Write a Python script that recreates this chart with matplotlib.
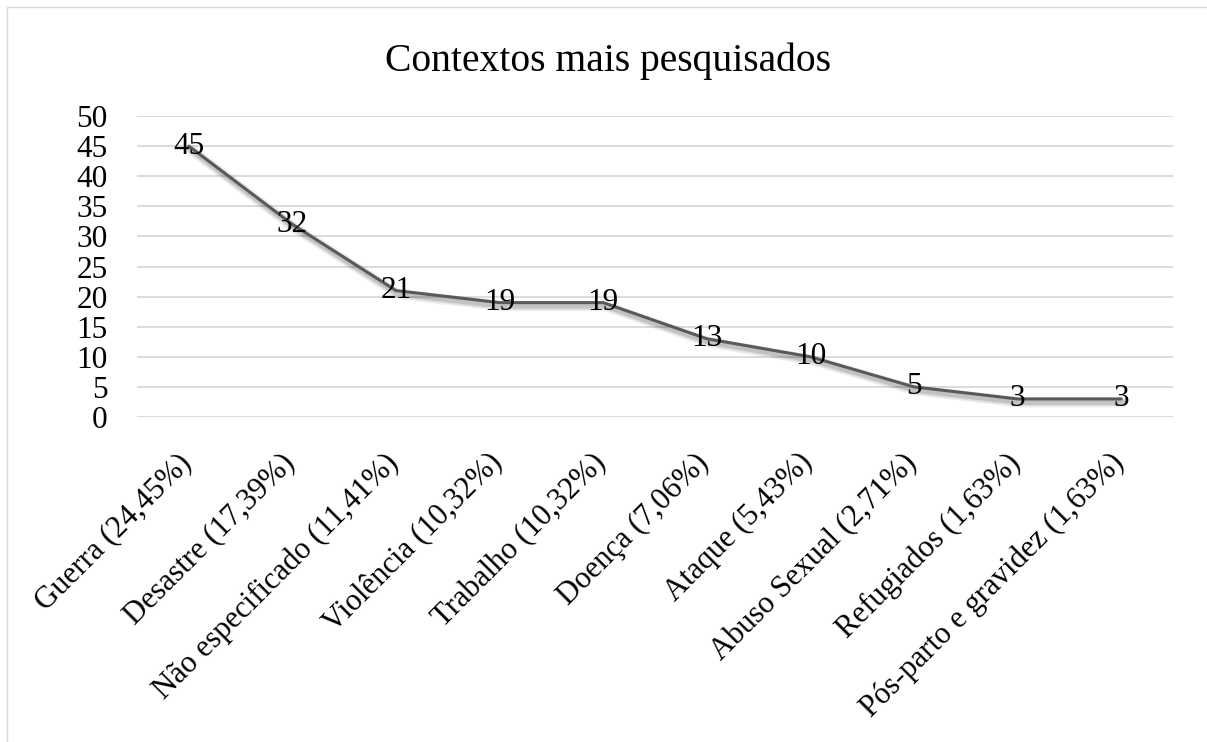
import matplotlib
matplotlib.use("Agg")
import matplotlib.pyplot as plt
import matplotlib.patheffects as pe
from matplotlib.patches import Rectangle
import matplotlib.transforms as mtransforms

plt.rcParams['font.family'] = ['Liberation Serif', 'DejaVu Serif']

title = "Contextos mais pesquisados"
categories = [
    "Guerra (24,45%)",
    "Desastre (17,39%)",
    "Não especificado (11,41%)",
    "Violência (10,32%)",
    "Trabalho (10,32%)",
    "Doença (7,06%)",
    "Ataque (5,43%)",
    "Abuso Sexual (2,71%)",
    "Refugiados (1,63%)",
    "Pós-parto e gravidez (1,63%)",
]
values = [45, 32, 21, 19, 19, 13, 10, 5, 3, 3]
y_ticks = [0, 5, 10, 15, 20, 25, 30, 35, 40, 45, 50]

W, H = 1207, 742
fig = plt.figure(figsize=(W / 100, H / 100), dpi=100)
fig.patch.set_facecolor("white")

# chart frame (light grey border)
fig.add_artist(Rectangle((7 / W, -0.05), 1.2, 1 - 7 / H + 0.05,
                         transform=fig.transFigure, fill=False,
                         edgecolor="#d9d9d9", linewidth=1.0))

ax = fig.add_axes([137 / W, 1 - 417 / H, (1173 - 137) / W, (417 - 116) / H])
ax.set_facecolor("none")

x = list(range(len(categories)))
shadow = [pe.SimpleLineShadow(offset=(1.5, -2.5), shadow_color="black", alpha=a, linewidth=w)
          for a, w in ((0.06, 7.5), (0.08, 5.5), (0.12, 3.5))]
ax.plot(x, values, color="#595959", linewidth=2.2, solid_capstyle="round",
        path_effects=shadow + [pe.Normal()], zorder=3)

for xi, v in zip(x, values):
    ax.text(xi, v, str(v), ha="center", va="center", fontsize=22.5,
            color="black", zorder=4)

ax.set_xlim(-0.5, len(categories) - 0.5)
ax.set_ylim(0, 50)
ax.set_yticks(y_ticks)
ax.set_yticklabels([str(t) for t in y_ticks], fontsize=22.5)
ax.yaxis.grid(True, color="#d9d9d9", linewidth=1.3)
ax.set_axisbelow(True)
ax.tick_params(axis="y", length=0, pad=21)
ax.set_xticks(x)
ax.set_xticklabels(categories, fontsize=22.1, rotation=45, ha="right",
                   rotation_mode="anchor")
ax.tick_params(axis="x", length=0, pad=22.5)
offset = mtransforms.ScaledTranslation(-12 / 100, 0, fig.dpi_scale_trans)
for lab in ax.get_xticklabels():
    lab.set_transform(lab.get_transform() + offset)
for s in ax.spines.values():
    s.set_visible(False)

fig.text(0.504, 1 - 61 / H, title, ha="center", va="center",
         fontsize=28.5, color="black")

fig.savefig("out.png", dpi=100, facecolor="white")
